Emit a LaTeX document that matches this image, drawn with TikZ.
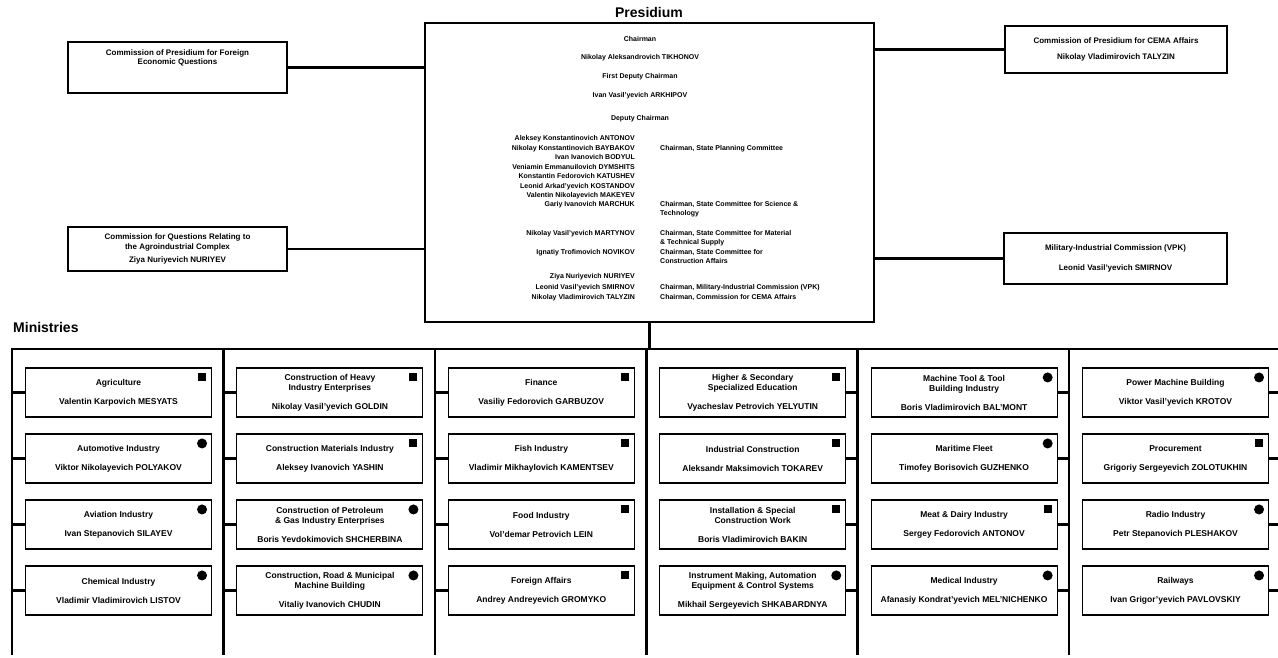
\documentclass[tikz,border=0pt]{standalone}
\usepackage{fontspec}
\setmainfont{Liberation Sans}
\usepackage{tikz}

\begin{document}
\begin{tikzpicture}[x=1pt,y=-1pt,
  box/.style={draw,line width=1.1pt,align=center,inner sep=0pt},
  mbox/.style={box,minimum width=186,minimum height=49,font=\fontsize{8.5}{10}\selectfont\bfseries},
  cbox/.style={box,font=\fontsize{8}{9.5}\selectfont\bfseries},
  ctext/.style={align=center,inner sep=0pt,font=\fontsize{8}{9}\selectfont\bfseries},
  ptext/.style={inner sep=0pt,font=\fontsize{7}{8.5}\selectfont\bfseries},
  head/.style={inner sep=0pt,font=\fontsize{14}{16}\selectfont\bfseries},
  conn/.style={line width=2.6pt},
  sq/.style={rectangle,fill,minimum size=8,inner sep=0pt},
  dot/.style={circle,fill,minimum size=10,inner sep=0pt}]
  \useasboundingbox (0,0) rectangle (1278,657);

  \node[head] (prestitle) at (649,12) {Presidium};
  \node[box,minimum width=449,minimum height=299] (pres) at (649.5,172.5) {};
  \foreach \txt/\y [count=\i] in {Chairman/41.5, Nikolay Aleksandrovich TIKHONOV/59.5,
      First Deputy Chairman/78.5, Ivan Vasil'yevich ARKHIPOV/97.5, Deputy Chairman/120.5}
    \node[ptext,anchor=base] (top\i) at (640,\y) {\txt};
  \foreach \txt/\y [count=\i] in {Aleksey Konstantinovich ANTONOV/140.5,
      Nikolay Konstantinovich BAYBAKOV/150, Ivan Ivanovich BODYUL/159.5,
      Veniamin Emmanuilovich DYMSHITS/169, Konstantin Fedorovich KATUSHEV/178.5,
      Leonid Arkad'yevich KOSTANDOV/188, Valentin Nikolayevich MAKEYEV/197.5,
      Gariy Ivanovich MARCHUK/206, Nikolay Vasil'yevich MARTYNOV/235.5,
      Ignatiy Trofimovich NOVIKOV/254.5, Ziya Nuriyevich NURIYEV/278.5,
      Leonid Vasil'yevich SMIRNOV/289.5, Nikolay Vladimirovich TALYZIN/299.5}
    \node[ptext,anchor=base east] (dep\i) at (635,\y) {\txt};
  \foreach \txt/\y [count=\i] in {{Chairman, State Planning Committee}/150.5,
      {Chairman, State Committee for Science \&}/206.5, Technology/215.5,
      {Chairman, State Committee for Material}/235.5, \& Technical Supply/244.5,
      {Chairman, State Committee for}/254.5, Construction Affairs/263.5,
      {Chairman, Military-Industrial Commission (VPK)}/289.5,
      {Chairman, Commission for CEMA Affairs}/299.5}
    \node[ptext,anchor=base west] (post\i) at (660,\y) {\txt};

  \node[cbox,minimum width=219,minimum height=51] (econ) at (177.5,67.5) {};
  \node[ctext] (econtxt) at (177.5,58) {Commission of Presidium for Foreign\\Economic Questions};
  \node[cbox,minimum width=219,minimum height=44] (agro) at (177.5,249)
    {Commission for Questions Relating to\\the Agroindustrial Complex\\[4pt]Ziya Nuriyevich NURIYEV};
  \node[cbox,minimum width=222,minimum height=47] (cema) at (1116,49.5)
    {Commission of Presidium for CEMA Affairs\\[6pt]Nikolay Vladimirovich TALYZIN};
  \node[cbox,minimum width=223,minimum height=51] (vpk) at (1115.5,258.5)
    {Military-Industrial Commission (VPK)\\[10pt]Leonid Vasil'yevich SMIRNOV};
  \draw[conn] (econ.east) -- (econ.east -| pres.west);
  \draw[conn] (agro.east) -- (agro.east -| pres.west);
  \draw[conn] (cema.west) -- (cema.west -| pres.east);
  \draw[conn] (vpk.west) -- (vpk.west -| pres.east);

  \node[head,anchor=west] (mintitle) at (13,327) {Ministries};
  \foreach \i in {1,...,7} \coordinate (d\i) at ({12+211.4*(\i-1)},349);
  \coordinate (barend) at (1278,349);
  \draw[conn] (d1) ++(0,306) -- (d1) -- (barend);
  \foreach \i in {2,...,6} \draw[conn] (d\i) -- ++(0,306);
  \draw[conn] (pres.south) -- (pres.south |- d1);

  \foreach \c/\r/\mk/\what/\who in {
      1/1/sq/Agriculture/Valentin Karpovich MESYATS,
      1/2/dot/Automotive Industry/Viktor Nikolayevich POLYAKOV,
      1/3/dot/Aviation Industry/Ivan Stepanovich SILAYEV,
      1/4/dot/Chemical Industry/Vladimir Vladimirovich LISTOV,
      2/1/sq/Construction of Heavy\\Industry Enterprises/Nikolay Vasil'yevich GOLDIN,
      2/2/sq/Construction Materials Industry/Aleksey Ivanovich YASHIN,
      2/3/dot/Construction of Petroleum\\\& Gas Industry Enterprises/Boris Yevdokimovich SHCHERBINA,
      2/4/dot/{Construction, Road \& Municipal\\Machine Building}/Vitaliy Ivanovich CHUDIN,
      3/1/sq/Finance/Vasiliy Fedorovich GARBUZOV,
      3/2/sq/Fish Industry/Vladimir Mikhaylovich KAMENTSEV,
      3/3/sq/Food Industry/Vol'demar Petrovich LEIN,
      3/4/sq/Foreign Affairs/Andrey Andreyevich GROMYKO,
      4/1/sq/Higher \& Secondary\\Specialized Education/Vyacheslav Petrovich YELYUTIN,
      4/2/sq/Industrial Construction/Aleksandr Maksimovich TOKAREV,
      4/3/sq/Installation \& Special\\Construction Work/Boris Vladimirovich BAKIN,
      4/4/dot/{Instrument Making, Automation\\Equipment \& Control Systems}/Mikhail Sergeyevich SHKABARDNYA,
      5/1/dot/Machine Tool \& Tool\\Building Industry/Boris Vladimirovich BAL'MONT,
      5/2/dot/Maritime Fleet/Timofey Borisovich GUZHENKO,
      5/3/sq/Meat \& Dairy Industry/Sergey Fedorovich ANTONOV,
      5/4/dot/Medical Industry/Afanasiy Kondrat'yevich MEL'NICHENKO,
      6/1/dot/Power Machine Building/Viktor Vasil'yevich KROTOV,
      6/2/sq/Procurement/Grigoriy Sergeyevich ZOLOTUKHIN,
      6/3/dot/Radio Industry/Petr Stepanovich PLESHAKOV,
      6/4/dot/Railways/Ivan Grigor'yevich PAVLOVSKIY} {
    \node[mbox] (m\c\r) at ({118.5+211.4*(\c-1)},{392.5+66*(\r-1)}) {\what\\[9pt]\who};
    \node[\mk] (k\c\r) at ([shift={(-10,10)}]m\c\r.north east) {};
    \ifnum\c<4
      \draw[conn] (m\c\r.west) -- (m\c\r.west -| d\c);
    \else
      \pgfmathtruncatemacro\nx{\c+1}
      \draw[conn] (m\c\r.east) -- (m\c\r.east -| d\nx);
    \fi
  }
\end{tikzpicture}
\end{document}
